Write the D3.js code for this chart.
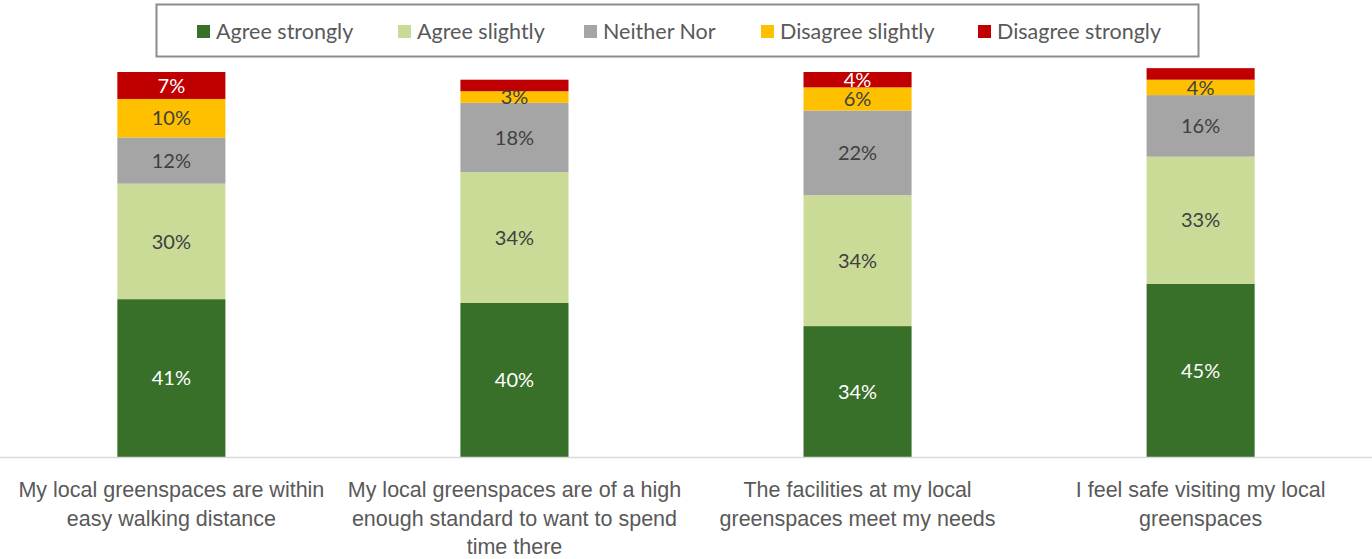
<!DOCTYPE html>
<html>
<head>
<meta charset="UTF-8">
<script src="https://d3js.org/d3.v7.min.js"></script>
<style>
  body { margin: 0; background: #fff; }
  svg { display: block; font-family: Lato, "Open Sans", sans-serif; }
</style>
</head>
<body>
<svg></svg>
<script>
// categories and series (percent)
var categories = [
  "My local greenspaces are within easy walking distance",
  "My local greenspaces are of a high enough standard to want to spend time there",
  "The facilities at my local greenspaces meet my needs",
  "I feel safe visiting my local greenspaces"
];
var seriesNames = ["Agree strongly", "Agree slightly", "Neither Nor", "Disagree slightly", "Disagree strongly"];
var agreeStrongly    = [41, 40, 34, 45];
var agreeSlightly    = [30, 34, 34, 33];
var neitherNor       = [12, 18, 22, 16];
var disagreeSlightly = [10, 3, 6, 4];
var disagreeStrongly = [7, 3, 4, 3];
// labels the original chart leaves off (series index, category index)
var hiddenLabels = ["4-1", "4-3"];

var colors = ["#38702A", "#C9DB97", "#A5A5A5", "#FFC000", "#C00000"];
var labelColors = ["#ffffff", "#404040", "#404040", "#404040", "#ffffff"];

var width = 1372, height = 559;
var svg = d3.select("svg").attr("width", width).attr("height", height);

var seriesValues = [agreeStrongly, agreeSlightly, neitherNor, disagreeSlightly, disagreeStrongly];
var table = categories.map(function(c, i) {
  var row = { cat: c };
  seriesNames.forEach(function(s, j) { row[s] = seriesValues[j][i]; });
  return row;
});
var stacked = d3.stack().keys(seriesNames)(table);

var x = d3.scaleBand().domain(categories).range([0, width]).paddingInner(0.685).paddingOuter(0.342);
var y = d3.scaleLinear().domain([0, 100]).range([457, 72]);

var groups = svg.append("g").selectAll("g")
  .data(stacked)
  .enter().append("g")
  .attr("fill", function(d, i) { return colors[i]; });

groups.selectAll("rect")
  .data(function(d) { return d; })
  .enter().append("rect")
  .attr("x", function(d) { return x(d.data.cat); })
  .attr("y", function(d) { return y(d[1]); })
  .attr("width", x.bandwidth())
  .attr("height", function(d) { return y(d[0]) - y(d[1]); });

// data labels
stacked.forEach(function(s, si) {
  svg.append("g").selectAll("text")
    .data(s)
    .enter().append("text")
    .filter(function(d, ci) { return hiddenLabels.indexOf(si + "-" + ci) < 0; })
    .attr("x", function(d) { return x(d.data.cat) + x.bandwidth() / 2; })
    .attr("y", function(d) { return (y(d[0]) + y(d[1])) / 2; })
    .attr("dy", "0.36em")
    .attr("text-anchor", "middle")
    .style("font-size", "20px")
    .attr("fill", labelColors[si])
    .text(function(d) { return (d[1] - d[0]) + "%"; });
});

// axis
var xAxis = svg.append("g")
  .attr("transform", "translate(0,457)")
  .call(d3.axisBottom(x).tickSize(0).tickPadding(0));
xAxis.select(".domain").attr("stroke", "#D9D9D9").attr("stroke-width", 1.5).attr("d", "M0,0.5H" + width);
xAxis.selectAll(".tick text").remove();
xAxis.selectAll(".tick").append("text")
  .attr("fill", "#595959")
  .attr("text-anchor", "middle")
  .style("font-size", "21.5px")
  .each(function(d) { wrap(d3.select(this), d, 340); });

function wrap(text, str, maxW) {
  var words = str.split(" "), line = [], lineNo = 0;
  var tspan = text.append("tspan").attr("x", 0).attr("y", 40);
  words.forEach(function(w) {
    line.push(w);
    tspan.text(line.join(" "));
    if (tspan.node().getComputedTextLength() > maxW && line.length > 1) {
      line.pop();
      tspan.text(line.join(" "));
      line = [w];
      lineNo++;
      tspan = text.append("tspan").attr("x", 0).attr("y", 40 + lineNo * 28.5).text(w);
    }
  });
}

// legend
var legend = svg.append("g");
legend.append("rect")
  .attr("x", 156.5).attr("y", 4.5).attr("width", 1042).attr("height", 52)
  .attr("fill", "#fff").attr("stroke", "#8C8C8C").attr("stroke-width", 2);
var legendX = [197, 398, 584, 761, 978];
seriesNames.forEach(function(s, i) {
  legend.append("rect").attr("x", legendX[i]).attr("y", 25).attr("width", 13).attr("height", 13).attr("fill", colors[i]);
  legend.append("text").attr("x", legendX[i] + 19).attr("y", 38.5)
    .attr("fill", "#595959").style("font-size", "21.5px").text(s);
});
</script>
</body>
</html>
